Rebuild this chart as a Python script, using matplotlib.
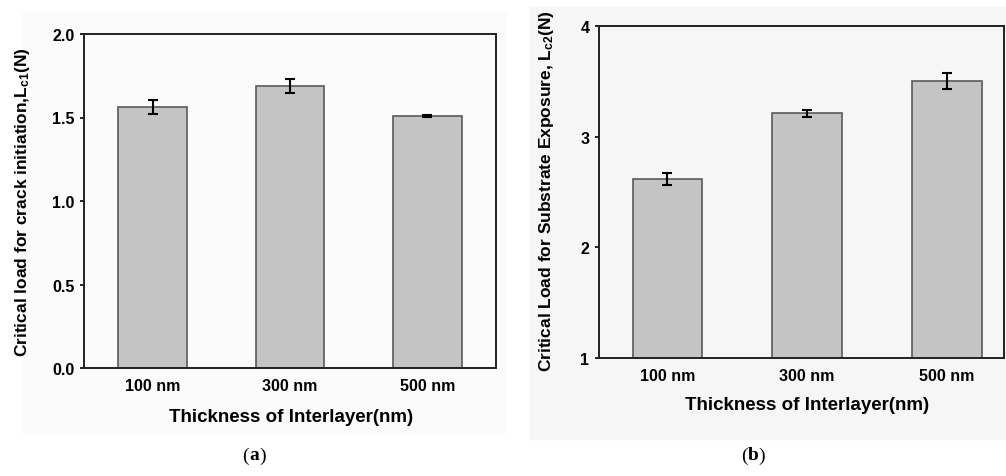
import matplotlib
matplotlib.use("Agg")
import matplotlib.pyplot as plt
from matplotlib.patches import Rectangle

plt.rcParams['font.family'] = 'Liberation Sans'
plt.rcParams['font.weight'] = 'bold'
plt.rcParams['axes.labelweight'] = 'bold'
plt.rcParams['mathtext.fontset'] = 'custom'
plt.rcParams['mathtext.rm'] = 'Liberation Sans:bold'
plt.rcParams['mathtext.bf'] = 'Liberation Sans:bold'

thickness = ['100 nm', '300 nm', '500 nm']
lc1 = [1.562, 1.688, 1.509]
lc1_err = [0.043, 0.041, 0.005]
lc2 = [2.617, 3.212, 3.503]
lc2_err = [0.052, 0.033, 0.070]

BAR_FILL = '#c4c4c4'
BAR_EDGE = '#5a5a5a'

W, H = 1006, 477
fig = plt.figure(figsize=(W / 100, H / 100), dpi=100)


def px_axes(left, top, right, bottom):
    return fig.add_axes([left / W, 1 - bottom / H, (right - left) / W, (bottom - top) / H])


# faint grey backing behind each panel
fig.patches.append(Rectangle((22 / W, 1 - 433 / H), 484 / W, 420 / H,
                             transform=fig.transFigure, color='#fbfbfb', zorder=-5))
fig.patches.append(Rectangle((530 / W, 1 - 440 / H), 476 / W, 432 / H,
                             transform=fig.transFigure, color='#f6f6f6', zorder=-5))


def draw_panel(ax, values, errs, ylim, yticks, fmt, ylabel, xlim, ylabel_x, xlabel_y):
    x = range(len(values))
    ax.bar(x, values, width=0.5, color=BAR_FILL, edgecolor=BAR_EDGE, linewidth=1.2, zorder=2)
    ax.errorbar(x, values, yerr=errs, fmt='none', ecolor='black', elinewidth=1.5,
                capsize=3.5, capthick=1.5, zorder=3)
    ax.set_xlim(*xlim)
    ax.set_ylim(*ylim)
    ax.set_yticks(yticks)
    ax.set_yticklabels([fmt.format(t) for t in yticks], fontsize=11.5)
    ax.set_xticks(list(x))
    ax.set_xticklabels(thickness, fontsize=11.5)
    ax.tick_params(axis='x', length=0, pad=7)
    ax.tick_params(axis='y', length=3, width=1.2, direction='out', pad=4)
    for s in ax.spines.values():
        s.set_linewidth(1.4)
        s.set_color('#222222')
    ax.set_facecolor('none')
    ax.set_xlabel('Thickness of Interlayer(nm)', fontsize=13.5)
    ax.set_ylabel(ylabel, fontsize=12.5)
    # place axis titles in figure pixels
    ax.xaxis.set_label_coords(0.5, 1 - xlabel_y / H, transform=fig.transFigure)
    ax.yaxis.set_label_coords(ylabel_x / W, 0.5, transform=fig.transFigure)
    ax.xaxis.label.set_va('center')
    ax.yaxis.label.set_va('center')


ax_a = px_axes(84, 35, 496, 369)
draw_panel(ax_a, lc1, lc1_err, (0, 2.0), [0, 0.5, 1.0, 1.5, 2.0], '{:.1f}',
           'Critical load for crack initiation,' + r'$\mathbf{L_{c1}}$' + '(N)', (-0.5, 2.5),
           23, 418)
ax_a.xaxis.set_label_coords(291 / W, 1 - 418 / H, transform=fig.transFigure)
ax_a.yaxis.set_label_coords(23 / W, 1 - 202 / H, transform=fig.transFigure)

ax_b = px_axes(599, 27, 1004, 359)
draw_panel(ax_b, lc2, lc2_err, (1, 4), [1, 2, 3, 4], '{:.0f}',
           'Critical Load for Substrate Exposure, ' + r'$\mathbf{L_{c2}}$' + '(N)', (-0.49, 2.41),
           546, 406)
ax_b.xaxis.set_label_coords(807 / W, 1 - 406 / H, transform=fig.transFigure)
ax_b.yaxis.set_label_coords(546 / W, 1 - 191 / H, transform=fig.transFigure)

# panel captions: serif, letter in bold
for cx, letter in [(254, 'a'), (753, 'b')]:
    y = 1 - 456 / H
    fig.text((cx - 5) / W, y, '(', fontsize=14, family='Liberation Serif', weight='normal',
             ha='right', va='center')
    fig.text(cx / W, y, letter, fontsize=14, family='Liberation Serif', weight='bold',
             ha='center', va='center')
    fig.text((cx + 5) / W, y, ')', fontsize=14, family='Liberation Serif', weight='normal',
             ha='left', va='center')

fig.savefig('out.png', dpi=100, facecolor='white')
